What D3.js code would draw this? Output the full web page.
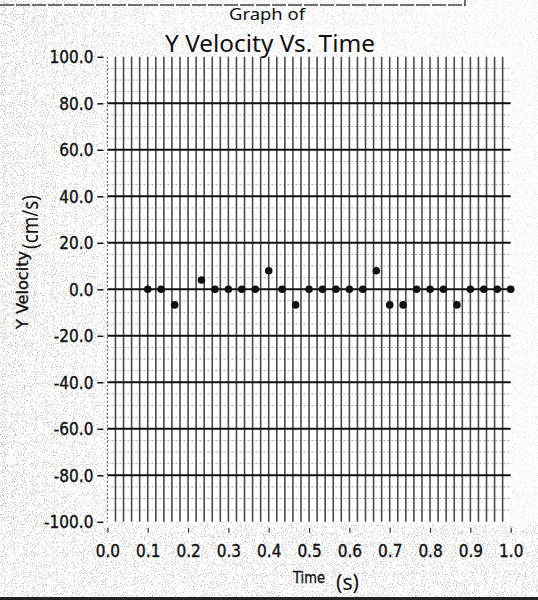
<!DOCTYPE html>
<html>
<head>
<meta charset="utf-8">
<script src="https://cdn.jsdelivr.net/npm/d3@7"></script>
<style>
  html, body { margin: 0; padding: 0; background: #fff; }
  svg { display: block; }
  .tick text { font-family: "DejaVu Sans Condensed", "DejaVu Sans", sans-serif; font-stretch: condensed; }
</style>
</head>
<body>
<svg id="chart" width="538" height="600"></svg>
<script>
// -----------------------------------------------------------------------------
// Data (30 frames per second)
// -----------------------------------------------------------------------------
var times = [0.1, 0.1333, 0.1667, 0.2333, 0.2667, 0.3, 0.3333, 0.3667, 0.4, 0.4333,
             0.4667, 0.5, 0.5333, 0.5667, 0.6, 0.6333, 0.6667, 0.7, 0.7333, 0.7667,
             0.8, 0.8333, 0.8667, 0.9, 0.9333, 0.9667, 1.0]
var yVelocity = [0, 0, -6.7, 4, 0, 0, 0, 0, 8, 0,
                 -6.7, 0, 0, 0, 0, 0, 8, -6.7, -6.7, 0,
                 0, 0, -6.7, 0, 0, 0, 0]
var xTicks = [0, 0.1, 0.2, 0.3, 0.4, 0.5, 0.6, 0.7, 0.8, 0.9, 1.0]
var yTicks = [100, 80, 60, 40, 20, 0, -20, -40, -60, -80, -100]

var points = times.map(function(t, i) { return {t: t, v: yVelocity[i]} })

var svg = d3.select("#chart")

var x = d3.scaleLinear().domain([0, 1]).range([107.4, 510.7])
var y = d3.scaleLinear().domain([-100, 100]).range([521.8, 56.8])

var hand = "'Noto Sans', sans-serif"
var print = "'DejaVu Sans Condensed', 'DejaVu Sans', sans-serif"
var fmt = function(d) { return d3.format(".1f")(d).replace("\u2212", "-") }

// -----------------------------------------------------------------------------
// Scanned paper speckle (heavier on the left and along the bottom)
// -----------------------------------------------------------------------------
var defs = svg.append("defs")
var f = defs.append("filter").attr("id", "speckle")
  .attr("x", 0).attr("y", 0).attr("width", "100%").attr("height", "100%")
f.append("feTurbulence").attr("type", "fractalNoise")
  .attr("baseFrequency", 0.9).attr("numOctaves", 2).attr("seed", 3).attr("result", "n")
f.append("feColorMatrix").attr("type", "matrix").attr("in", "n")
  .attr("values", "0 0 0 0 0.3  0 0 0 0 0.3  0 0 0 0 0.3  8 0 0 0 -4.5")

var grad = defs.append("linearGradient").attr("id", "fadeX")
grad.append("stop").attr("offset", "0").attr("stop-color", "#fff")
grad.append("stop").attr("offset", "0.25").attr("stop-color", "#aaa")
grad.append("stop").attr("offset", "1").attr("stop-color", "#555")
var mask = defs.append("mask").attr("id", "paperMask")
mask.append("rect").attr("width", 538).attr("height", 600).attr("fill", "url(#fadeX)")
mask.append("rect").attr("y", 525).attr("width", 538).attr("height", 75).attr("fill", "#ddd")

svg.append("rect").attr("width", 538).attr("height", 600)
  .attr("filter", "url(#speckle)").attr("mask", "url(#paperMask)").attr("opacity", 0.6)

// white plot paper
svg.append("rect")
  .attr("x", x(0)).attr("y", y(100))
  .attr("width", x(1) - x(0)).attr("height", y(-100) - y(100))
  .attr("fill", "#fff")

// -----------------------------------------------------------------------------
// Grid
// -----------------------------------------------------------------------------
var minorY = d3.range(-95, 100, 5).filter(function(v) { return v % 20 != 0 })
var majorY = d3.range(-80, 81, 20)
var vLines = d3.range(1, 50).map(function(i) { return i * 0.02 })

svg.append("g").selectAll("line").data(minorY).join("line")
  .attr("x1", x(0)).attr("x2", x(1))
  .attr("y1", function(d) { return y(d) }).attr("y2", function(d) { return y(d) })
  .attr("stroke", "#a0a0a0").attr("stroke-width", 1).attr("stroke-dasharray", "2,2")

svg.append("g").selectAll("line").data(vLines).join("line")
  .attr("x1", function(d) { return x(d) }).attr("x2", function(d) { return x(d) })
  .attr("y1", y(100)).attr("y2", y(-100))
  .attr("stroke", "#4a4a4a").attr("stroke-width", 1.6)

svg.append("g").selectAll("line").data(majorY).join("line")
  .attr("x1", x(0)).attr("x2", x(1))
  .attr("y1", function(d) { return y(d) }).attr("y2", function(d) { return y(d) })
  .attr("stroke", "#111").attr("stroke-width", 2)

// left frame (faint dotted)
svg.append("line")
  .attr("x1", x(0)).attr("x2", x(0)).attr("y1", y(100)).attr("y2", y(-100))
  .attr("stroke", "#555").attr("stroke-width", 1).attr("stroke-dasharray", "2,2")

// -----------------------------------------------------------------------------
// Axes
// -----------------------------------------------------------------------------
var yAxis = svg.append("g")
  .attr("transform", "translate(" + x(0) + ",0)")
  .call(d3.axisLeft(y).tickValues(yTicks).tickFormat(fmt)
    .tickSize(0).tickPadding(14))
yAxis.select(".domain").remove()
yAxis.selectAll(".tick text")
  .attr("font-size", 17).attr("fill", "#111").attr("dy", "0.36em")
  .attr("stroke", "#111").attr("stroke-width", 0.35)
yAxis.selectAll(".tick").append("line")
  .attr("x1", -10).attr("x2", -4).attr("stroke", "#111").attr("stroke-width", 1.5)

var xAxis = svg.append("g")
  .attr("transform", "translate(0," + y(-100) + ")")
  .call(d3.axisBottom(x).tickValues(xTicks).tickFormat(fmt)
    .tickSize(0).tickPadding(23))
xAxis.select(".domain").remove()
xAxis.selectAll(".tick text")
  .attr("font-size", 17).attr("fill", "#111")
  .attr("stroke", "#111").attr("stroke-width", 0.35)
xAxis.selectAll(".tick").append("line")
  .attr("y1", 6).attr("y2", 11).attr("stroke", "#333").attr("stroke-width", 1.2)

// printed axis titles
svg.append("text")
  .attr("x", 293).attr("y", 583)
  .attr("font-family", print).attr("font-stretch", "condensed")
  .attr("font-size", 15).attr("fill", "#111")
  .attr("stroke", "#111").attr("stroke-width", 0.3)
  .attr("textLength", 32).attr("lengthAdjust", "spacingAndGlyphs")
  .text("Time")

svg.append("text")
  .attr("transform", "translate(28,329) rotate(-90)")
  .attr("font-family", print).attr("font-stretch", "condensed")
  .attr("font-size", 15).attr("fill", "#111")
  .attr("stroke", "#111").attr("stroke-width", 0.3)
  .attr("textLength", 78).attr("lengthAdjust", "spacingAndGlyphs")
  .text("Y Velocity")

// -----------------------------------------------------------------------------
// Handwritten notes
// -----------------------------------------------------------------------------
svg.append("text")
  .attr("x", 229).attr("y", 20)
  .attr("font-family", hand).attr("font-size", 16).attr("fill", "#111")
  .attr("textLength", 76).attr("lengthAdjust", "spacingAndGlyphs")
  .text("Graph of")

svg.append("text")
  .attr("x", 165).attr("y", 52)
  .attr("font-family", hand).attr("font-size", 23).attr("fill", "#111")
  .attr("textLength", 210).attr("lengthAdjust", "spacingAndGlyphs")
  .text("Y Velocity Vs. Time")

svg.append("text")
  .attr("transform", "translate(38,249) rotate(-90)")
  .attr("font-family", hand).attr("font-size", 21).attr("fill", "#111")
  .attr("textLength", 54).attr("lengthAdjust", "spacingAndGlyphs")
  .text("(cm/s)")

svg.append("text")
  .attr("x", 336).attr("y", 590)
  .attr("font-family", hand).attr("font-size", 21).attr("fill", "#111")
  .attr("textLength", 23).attr("lengthAdjust", "spacingAndGlyphs")
  .text("(s)")

// sheet edges from the scan
svg.append("line").attr("x1", 0).attr("x2", 465).attr("y1", 5).attr("y2", 5)
  .attr("stroke", "#444").attr("stroke-width", 1.5).attr("stroke-dasharray", "14,2")
svg.append("line").attr("x1", 465).attr("x2", 465).attr("y1", 0).attr("y2", 6)
  .attr("stroke", "#444").attr("stroke-width", 1.5)
svg.append("line").attr("x1", 0).attr("x2", 538).attr("y1", 598.5).attr("y2", 598.5)
  .attr("stroke", "#222").attr("stroke-width", 3)

// -----------------------------------------------------------------------------
// Data points
// -----------------------------------------------------------------------------
svg.append("g").selectAll("circle").data(points).join("circle")
  .attr("cx", function(d) { return x(d.t) })
  .attr("cy", function(d) { return y(d.v) })
  .attr("r", 3.8)
  .attr("fill", "#111")
</script>
</body>
</html>
